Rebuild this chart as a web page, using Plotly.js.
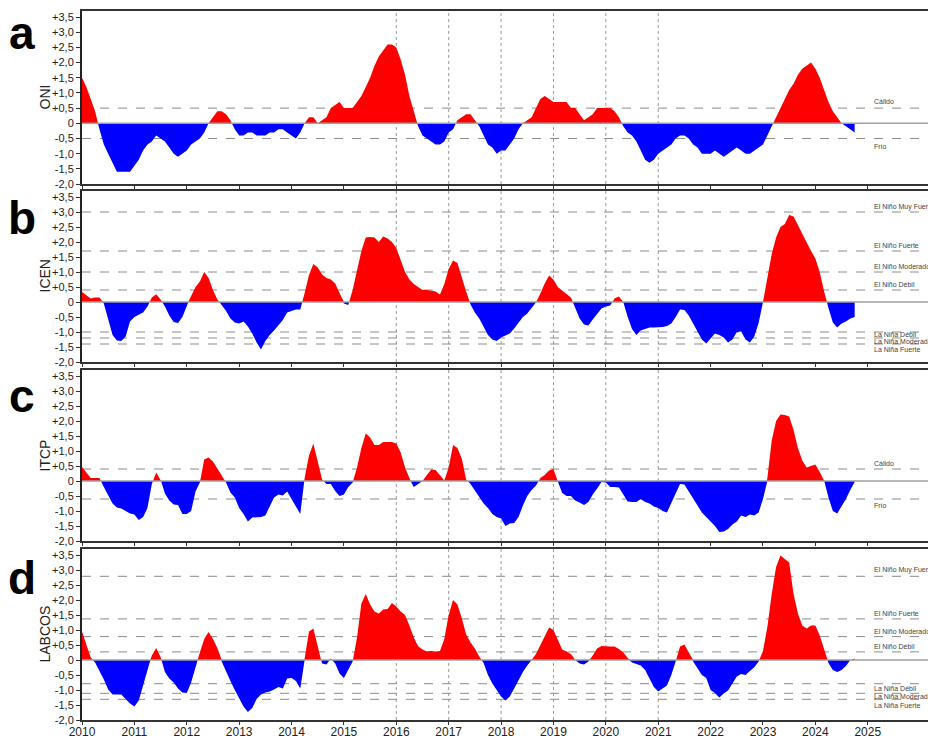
<!DOCTYPE html>
<html><head><meta charset="utf-8">
<script src="https://cdn.plot.ly/plotly-3.0.1.min.js"></script>
<style>html,body{margin:0;padding:0;background:#fff}</style>
</head><body><div id="chart" style="width:928px;height:740px"></div>
<script>
// ---------- DATA (monthly, Jan 2010 .. Oct 2024) ----------
const startYear = 2010;
const oni = [
 1.5, 1.2, 0.8, 0.4, -0.2, -0.7, -1.0, -1.3, -1.6, -1.6, -1.6, -1.6,
 -1.4, -1.2, -0.9, -0.7, -0.6, -0.4, -0.5, -0.6, -0.8, -1.0, -1.1, -1.0,
 -0.9, -0.7, -0.6, -0.5, -0.3, 0.0, 0.2, 0.4, 0.4, 0.3, 0.1, -0.2,
 -0.4, -0.4, -0.3, -0.3, -0.4, -0.4, -0.4, -0.3, -0.3, -0.2, -0.2, -0.3,
 -0.4, -0.5, -0.3, 0.0, 0.2, 0.2, 0.0, 0.1, 0.2, 0.5, 0.6, 0.7,
 0.5, 0.5, 0.5, 0.7, 0.9, 1.2, 1.5, 1.9, 2.2, 2.4, 2.6, 2.6,
 2.5, 2.1, 1.6, 0.9, 0.4, -0.1, -0.4, -0.5, -0.6, -0.7, -0.7, -0.6,
 -0.3, -0.2, 0.1, 0.2, 0.3, 0.3, 0.1, -0.1, -0.4, -0.7, -0.8, -1.0,
 -0.9, -0.9, -0.7, -0.5, -0.2, 0.0, 0.1, 0.2, 0.5, 0.8, 0.9, 0.8,
 0.7, 0.7, 0.7, 0.7, 0.5, 0.5, 0.3, 0.1, 0.2, 0.3, 0.5, 0.5,
 0.5, 0.5, 0.4, 0.2, -0.1, -0.3, -0.4, -0.6, -0.9, -1.2, -1.3, -1.2,
 -1.0, -0.9, -0.8, -0.7, -0.5, -0.4, -0.4, -0.5, -0.7, -0.8, -1.0, -1.0,
 -1.0, -0.9, -1.0, -1.1, -1.0, -0.9, -0.8, -0.9, -1.0, -1.0, -0.9, -0.8,
 -0.7, -0.4, -0.1, 0.2, 0.5, 0.8, 1.1, 1.3, 1.6, 1.8, 1.9, 2.0,
 1.8, 1.5, 1.1, 0.7, 0.4, 0.2, 0.0, -0.1, -0.2, -0.3
];
const icen = [
 0.33, 0.22, 0.12, 0.15, 0.15, -0.05, -0.6, -1.1, -1.28, -1.3, -1.15, -0.65,
 -0.5, -0.42, -0.35, -0.15, 0.15, 0.26, 0.08, -0.15, -0.45, -0.67, -0.7, -0.5,
 -0.12, 0.2, 0.5, 0.68, 1.0, 0.8, 0.4, 0.08, -0.1, -0.3, -0.55, -0.68,
 -0.72, -0.65, -0.82, -1.05, -1.35, -1.58, -1.3, -1.1, -0.95, -0.78, -0.6, -0.35,
 -0.3, -0.25, -0.25, 0.3, 0.9, 1.27, 1.15, 0.92, 0.8, 0.75, 0.62, 0.3,
 -0.05, -0.1, 0.4, 1.1, 1.7, 2.15, 2.17, 2.15, 2.0, 2.18, 2.12, 2.0,
 1.8, 1.4, 1.0, 0.75, 0.6, 0.5, 0.4, 0.4, 0.38, 0.35, 0.25, 0.6,
 1.1, 1.38, 1.3, 0.8, 0.35, -0.08, -0.35, -0.55, -0.85, -1.1, -1.25, -1.3,
 -1.18, -1.12, -1.05, -0.88, -0.68, -0.5, -0.38, -0.2, -0.02, 0.28, 0.62, 0.88,
 0.75, 0.5, 0.38, 0.26, 0.15, -0.2, -0.55, -0.75, -0.78, -0.58, -0.38, -0.22,
 -0.15, -0.12, 0.12, 0.18, 0.0, -0.5, -0.9, -1.1, -0.95, -0.9, -0.85, -0.85,
 -0.85, -0.83, -0.8, -0.72, -0.5, -0.25, -0.27, -0.45, -0.72, -1.0, -1.25, -1.38,
 -1.2, -1.05, -1.1, -1.18, -1.35, -1.25, -1.0, -0.98, -1.25, -1.35, -1.15, -0.7,
 0.0, 0.8, 1.6, 2.15, 2.5, 2.6, 2.9, 2.85, 2.55, 2.25, 2.0, 1.7,
 1.45, 1.0, 0.35, -0.2, -0.68, -0.85, -0.72, -0.65, -0.55, -0.5
];
const itcp = [
 0.47, 0.3, 0.1, 0.1, 0.1, -0.2, -0.5, -0.75, -0.88, -0.92, -1.0, -1.08,
 -1.12, -1.3, -1.2, -0.9, -0.1, 0.28, 0.05, -0.42, -0.65, -0.78, -0.8, -1.1,
 -1.1, -1.0, -0.35, -0.05, 0.72, 0.78, 0.65, 0.4, 0.18, -0.05, -0.38, -0.55,
 -0.9, -1.1, -1.35, -1.22, -1.2, -1.2, -1.15, -0.85, -0.55, -0.45, -0.48, -0.35,
 -0.6, -0.82, -1.1, 0.1, 0.85, 1.25, 0.65, 0.05, -0.1, -0.1, -0.33, -0.5,
 -0.45, -0.2, -0.05, 0.45, 1.1, 1.58, 1.45, 1.2, 1.2, 1.3, 1.3, 1.3,
 1.25, 0.95, 0.45, 0.08, -0.2, -0.1, 0.0, 0.2, 0.38, 0.37, 0.18, 0.02,
 0.45, 1.2, 1.1, 0.75, 0.05, -0.1, -0.32, -0.55, -0.75, -0.9, -1.1, -1.2,
 -1.25, -1.5, -1.42, -1.4, -1.2, -0.82, -0.5, -0.3, -0.15, 0.1, 0.2, 0.35,
 0.4, -0.02, -0.4, -0.5, -0.5, -0.65, -0.72, -0.8, -0.7, -0.45, -0.25, -0.03,
 -0.05, -0.2, -0.2, -0.22, -0.45, -0.68, -0.7, -0.7, -0.6, -0.7, -0.75, -0.85,
 -0.9, -1.0, -1.05, -0.75, -0.4, -0.1, -0.12, -0.35, -0.58, -0.8, -1.05, -1.2,
 -1.35, -1.5, -1.7, -1.68, -1.6, -1.45, -1.35, -1.15, -1.2, -1.12, -1.15, -1.05,
 -0.6, 0.1, 1.35, 2.0, 2.22, 2.2, 2.15, 1.7, 1.1, 0.68, 0.45, 0.5,
 0.55, 0.3, 0.02, -0.55, -1.0, -1.08, -0.85, -0.6, -0.3, -0.03
];
const labcos = [
 0.95, 0.55, 0.08, -0.08, -0.35, -0.65, -0.98, -1.15, -1.15, -1.15, -1.3, -1.45,
 -1.55, -1.35, -0.85, -0.3, 0.15, 0.4, 0.1, -0.4, -0.62, -0.75, -0.95, -1.08,
 -1.1, -0.75, -0.25, 0.25, 0.7, 0.93, 0.7, 0.4, -0.05, -0.4, -0.7, -1.0,
 -1.27, -1.55, -1.73, -1.6, -1.3, -1.15, -1.08, -1.05, -0.98, -0.9, -0.95, -0.62,
 -0.6, -0.7, -0.95, 0.05, 0.95, 1.05, 0.4, -0.12, -0.15, 0.05, -0.12, -0.45,
 -0.6, -0.35, -0.05, 0.75, 1.88, 2.2, 1.85, 1.62, 1.55, 1.68, 1.7, 1.9,
 1.78, 1.62, 1.5, 1.15, 0.75, 0.46, 0.35, 0.28, 0.3, 0.28, 0.3, 0.7,
 1.5, 2.0, 1.85, 1.4, 0.85, 0.58, 0.38, 0.12, -0.1, -0.5, -0.78, -1.0,
 -1.22, -1.35, -1.22, -0.95, -0.65, -0.4, -0.18, 0.0, 0.2, 0.48, 0.78, 1.08,
 1.0, 0.65, 0.35, 0.28, 0.2, 0.0, -0.12, -0.15, -0.05, 0.15, 0.38, 0.47,
 0.45, 0.45, 0.45, 0.37, 0.25, 0.05, -0.08, -0.14, -0.18, -0.33, -0.62, -0.9,
 -1.05, -0.95, -0.85, -0.5, -0.05, 0.45, 0.52, 0.25, -0.05, -0.28, -0.5, -0.6,
 -1.0, -1.1, -1.25, -1.12, -1.02, -0.78, -0.55, -0.47, -0.5, -0.37, -0.24, -0.05,
 0.3, 1.1, 2.2, 3.1, 3.48, 3.35, 3.25, 2.2, 1.55, 1.15, 1.05, 1.15,
 1.15, 0.82, 0.4, -0.1, -0.33, -0.4, -0.33, -0.2, 0.0, 0.05
];
const yearTicks = [2010,2011,2012,2013,2014,2015,2016,2017,2018,2019,2020,2021,2022,2023,2024,2025];
const gridYears = [2016,2017,2018,2019,2020,2021];
const yTickVals = [-2,-1.5,-1,-0.5,0,0.5,1,1.5,2,2.5,3,3.5];
const yTickText = ['-2,0','-1,5','-1,0','-0,5','0','+0,5','+1,0','+1,5','+2,0','+2,5','+3,0','+3,5'];
const panelLetters = ['a','b','c','d'];
const panelNames = ['ONI','ICEN','ITCP','LABCOS'];
const oniThr = [0.5, -0.5];
const oniThrLabels = ['Cálido','Frío'];
const icenThr = [3.0, 1.7, 1.0, 0.4, -1.0, -1.2, -1.4];
const itcpThr = [0.4, -0.6];
const itcpThrLabels = ['Cálido','Frío'];
const labcosThr = [2.79, 1.37, 0.78, 0.27, -0.79, -1.11, -1.31];
const ensoLabels = ['El Niño Muy Fuerte','El Niño Fuerte','El Niño Moderado','El Niño Débil','La Niña Débil','La Niña Moderada','La Niña Fuerte'];

// ---------- BUILD ----------
const W = 928, H = 740, ML = 82, MT = 11, MB = 20;
const plotH = H - MT - MB;
const panelPx = [[11,184],[191,362],[370,541],[549,720]];
const dom = panelPx.map(p => [(H - MB - p[1]) / plotH, (H - MB - p[0]) / plotH]);
const pxX = px => (px - ML) / (W - ML);
const pxY = py => (H - MB - py) / plotH;

function split(xs, ys) {
  const px = [], py = [], nx = [], ny = [];
  for (let i = 0; i < ys.length; i++) {
    if (i > 0) {
      const a = ys[i-1], b = ys[i];
      if ((a > 0 && b < 0) || (a < 0 && b > 0)) {
        const t = a / (a - b);
        const xc = xs[i-1] + t * (xs[i] - xs[i-1]);
        px.push(xc); py.push(0); nx.push(xc); ny.push(0);
      }
    }
    px.push(xs[i]); py.push(Math.max(ys[i], 0));
    nx.push(xs[i]); ny.push(Math.min(ys[i], 0));
  }
  return {px, py, nx, ny};
}

const series = [oni, icen, itcp, labcos];
const traces = [];
const layout = {
  width: W, height: H,
  margin: {l: ML, r: 0, t: MT, b: MB},
  paper_bgcolor: '#fff', plot_bgcolor: '#fff',
  showlegend: false,
  font: {family: 'Liberation Sans, Arial, sans-serif', color: '#222'},
  shapes: [], annotations: []
};

series.forEach((vals, k) => {
  const n = k + 1, sfx = n === 1 ? '' : String(n);
  const xs = vals.map((v, i) => startYear + i / 12);
  const s = split(xs, vals);
  traces.push({x: s.px, y: s.py, xaxis: 'x' + sfx, yaxis: 'y' + sfx, type: 'scatter', mode: 'lines',
    fill: 'tozeroy', fillcolor: '#FF0000', line: {width: 0, color: '#FF0000'}, hoverinfo: 'skip'});
  traces.push({x: s.nx, y: s.ny, xaxis: 'x' + sfx, yaxis: 'y' + sfx, type: 'scatter', mode: 'lines',
    fill: 'tozeroy', fillcolor: '#0000FF', line: {width: 0, color: '#0000FF'}, hoverinfo: 'skip'});

  layout['xaxis' + sfx] = {
    domain: [0, 1], anchor: 'y' + sfx, range: [2010, 2026.15],
    tickvals: yearTicks, ticktext: yearTicks.map(String),
    ticks: 'outside', ticklen: 3, tickwidth: 1, tickcolor: '#333',
    showticklabels: n === 4, tickfont: {size: 12, color: '#222'}, ticklabelstandoff: -3,
    showline: true, mirror: true, linecolor: '#333', linewidth: 2,
    showgrid: false, zeroline: false, fixedrange: true
  };
  layout['yaxis' + sfx] = {
    domain: dom[k], anchor: 'x' + sfx, range: [-2, 3.7],
    tickvals: yTickVals, ticktext: yTickText,
    ticks: 'outside', ticklen: 4, tickwidth: 1, tickcolor: '#333',
    tickfont: {size: 11, color: '#222'},
    showline: true, linecolor: '#222', linewidth: 2,
    showgrid: false, zeroline: false, fixedrange: true
  };

  // vertical dotted grid lines
  gridYears.forEach(yr => layout.shapes.push({type: 'line', layer: 'below', xref: 'x' + sfx, yref: 'y' + sfx + ' domain',
    x0: yr, x1: yr, y0: 0, y1: 1, line: {color: '#9a9a9a', width: 1, dash: 'dot'}}));

  // threshold lines + labels
  let thr, labs, shifts;
  if (k === 0) { thr = oniThr; labs = oniThrLabels; shifts = [7, -8]; }
  else if (k === 2) { thr = itcpThr; labs = itcpThrLabels; shifts = [6, -6]; }
  else if (k === 1) { thr = icenThr; labs = ensoLabels; shifts = [5, 6, 6, 6, -2, -3, -5]; }
  else { thr = labcosThr; labs = ensoLabels; shifts = [6, 5.5, 5.5, 5, -4.5, -3, -6]; }
  thr.forEach((t, j) => {
    layout.shapes.push({type: 'line', layer: 'below', xref: 'x' + sfx + ' domain', yref: 'y' + sfx,
      x0: 0, x1: 1, y0: t, y1: t, line: {color: '#8c8c8c', width: 1, dash: 'dash'}});
    layout.annotations.push({xref: 'x' + sfx, yref: 'y' + sfx, x: 2025.08, y: t, xanchor: 'left', yanchor: 'middle',
      yshift: shifts[j], text: labs[j], showarrow: false, font: {size: 7, color: '#444'}});
  });
  // zero line
  layout.shapes.push({type: 'line', layer: 'above', xref: 'x' + sfx + ' domain', yref: 'y' + sfx,
    x0: 0, x1: 1, y0: 0, y1: 0, line: {color: '#a0a0a0', width: 1.5}});

  // panel letter and axis name
  const cy = (panelPx[k][0] + panelPx[k][1]) / 2;
  layout.annotations.push({xref: 'paper', yref: 'paper', x: pxX(22), y: pxY([33, 218, 396, 578][k]),
    xanchor: 'center', yanchor: 'middle', text: '<b>' + panelLetters[k] + '</b>', showarrow: false,
    font: {size: 46, color: '#000', family: 'Liberation Sans, Arial, sans-serif'}});
  layout.annotations.push({xref: 'paper', yref: 'paper', x: pxX(44), y: pxY(cy),
    xanchor: 'center', yanchor: 'middle', textangle: -90, text: panelNames[k], showarrow: false,
    font: {size: 14, color: '#222'}});
});

Plotly.newPlot('chart', traces, layout, {displayModeBar: false, staticPlot: true});
</script></body></html>
